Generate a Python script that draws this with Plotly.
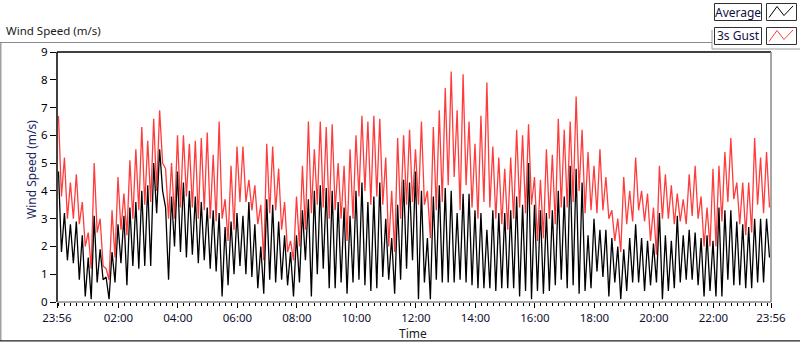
import plotly.graph_objects as go

# ---- data: 12-minute blocks starting 23:56, high / low values ----
gust_hi = [6.7, 5.2, 4.3, 4.6, 3.6, 2.5, 5.0, 3.0, 1.2, 3.3,
           4.5, 3.9, 5.1, 5.5, 6.3, 5.8, 6.6, 6.9, 4.8, 5.0,
           6.0, 6.0, 5.7, 5.8, 5.9, 6.1, 5.3, 6.5, 3.7, 4.9,
           5.6, 5.6, 4.4, 4.2, 3.5, 5.7, 5.6, 4.8, 3.6, 2.2,
           3.8, 4.9, 6.5, 5.5, 6.5, 6.3, 6.4, 5.0, 4.9, 5.5,
           6.0, 6.7, 6.5, 6.7, 6.6, 5.2, 4.0, 5.9, 6.0, 6.2,
           5.5, 6.5, 4.0, 6.3, 6.9, 7.7, 8.3, 6.9, 8.2, 6.5,
           5.7, 6.7, 7.9, 5.6, 5.2, 4.8, 5.2, 6.2, 6.0, 6.4,
           4.5, 4.4, 5.5, 5.3, 6.6, 6.2, 6.5, 7.4, 6.2, 5.4,
           4.9, 5.5, 4.5, 3.3, 3.0, 4.5, 4.0, 5.2, 4.0, 3.9,
           3.4, 4.9, 4.6, 4.2, 3.9, 3.7, 4.6, 4.9, 3.8, 3.4,
           4.8, 4.9, 5.4, 5.9, 4.3, 4.3, 4.3, 5.9, 5.2, 5.4]
gust_lo = [3.8, 3.0, 3.0, 2.8, 2.0, 1.2, 2.5, 1.3, 0.8, 1.6,
           2.6, 2.4, 3.0, 3.3, 3.5, 3.6, 4.0, 5.0, 3.0, 3.0,
           3.4, 3.8, 3.4, 3.0, 3.3, 3.0, 2.9, 3.0, 2.2, 2.6,
           3.6, 3.6, 3.3, 2.8, 1.5, 3.2, 3.3, 2.6, 1.8, 1.5,
           2.0, 2.6, 3.2, 3.5, 3.4, 3.0, 3.3, 3.0, 2.2, 3.0,
           3.8, 4.0, 3.5, 3.8, 3.5, 2.0, 1.8, 3.0, 3.5, 3.6,
           3.5, 3.5, 2.3, 3.3, 3.6, 4.2, 4.5, 3.3, 4.2, 3.4,
           3.0, 3.6, 3.4, 3.0, 2.8, 2.6, 3.0, 3.4, 3.2, 3.5,
           2.2, 2.3, 3.0, 2.8, 3.4, 3.4, 3.6, 4.0, 3.2, 3.3,
           3.2, 3.3, 3.0, 2.2, 1.8, 2.8, 2.9, 3.3, 2.9, 2.2,
           1.7, 3.0, 3.0, 2.8, 2.9, 2.8, 3.1, 3.0, 2.0, 2.0,
           2.0, 2.9, 3.6, 3.7, 2.8, 2.4, 2.5, 3.5, 3.2, 3.4]
avg_hi = [4.7, 3.2, 2.8, 2.9, 2.4, 1.6, 3.1, 1.9, 0.9, 1.8,
          2.8, 3.1, 3.4, 3.6, 4.0, 4.2, 5.0, 5.5, 3.4, 3.8,
          4.7, 4.3, 4.0, 3.8, 3.6, 3.4, 3.3, 3.2, 2.7, 2.9,
          3.2, 3.1, 3.6, 2.8, 2.0, 3.7, 3.5, 2.9, 2.4, 1.8,
          2.4, 3.3, 3.7, 4.0, 4.2, 4.1, 4.0, 3.6, 3.4, 3.1,
          4.0, 4.3, 3.6, 3.8, 4.3, 3.0, 2.3, 3.5, 4.4, 4.3,
          4.7, 4.0, 2.3, 3.8, 4.2, 4.1, 4.0, 3.2, 3.9, 3.9,
          3.3, 3.2, 2.6, 3.3, 3.2, 3.2, 3.3, 3.8, 3.5, 5.0,
          3.5, 3.3, 3.2, 3.3, 4.0, 3.8, 4.9, 4.8, 4.3, 2.4,
          3.0, 2.6, 2.6, 2.3, 2.0, 1.9, 2.3, 2.8, 2.3, 2.2,
          2.1, 3.2, 2.4, 2.2, 3.1, 2.4, 2.6, 2.5, 2.3, 2.4,
          2.2, 3.4, 3.3, 3.3, 2.9, 2.8, 2.7, 3.0, 3.0, 3.0]
avg_lo = [1.8, 1.5, 1.4, 0.8, 0.2, 0.1, 0.7, 0.8, 0.1, 0.7,
          1.4, 0.6, 1.3, 1.2, 1.3, 1.3, 3.2, 4.0, 0.8, 2.0,
          1.8, 1.6, 1.7, 1.4, 1.5, 1.2, 1.1, 0.2, 0.6, 1.0,
          1.3, 1.0, 0.9, 0.5, 0.3, 0.8, 0.7, 0.8, 0.6, 0.2,
          0.7, 1.5, 0.2, 1.0, 1.2, 0.5, 0.5, 0.7, 0.3, 0.7,
          0.8, 0.6, 0.4, 0.5, 0.9, 0.8, 0.3, 0.8, 1.2, 1.5,
          0.1, 0.7, 0.1, 0.8, 0.7, 0.7, 0.7, 0.8, 0.7, 0.6,
          0.5, 0.5, 0.5, 0.4, 0.5, 0.5, 0.5, 0.2, 0.4, 0.1,
          0.4, 0.3, 0.4, 0.6, 0.8, 0.5, 0.6, 0.3, 0.4, 0.5,
          1.1, 0.9, 0.2, 0.7, 0.1, 0.4, 0.7, 0.7, 0.4, 0.6,
          0.7, 0.1, 0.4, 0.5, 0.7, 0.8, 0.8, 0.6, 0.2, 0.4,
          0.2, 0.2, 0.8, 0.6, 0.6, 0.5, 0.5, 0.7, 0.7, 1.6]

tick_text = ["23:56", "02:00", "04:00", "06:00", "08:00", "10:00", "12:00",
             "14:00", "16:00", "18:00", "20:00", "22:00", "23:56"]
tick_minutes = [0, 124, 244, 364, 484, 604, 724, 844, 964, 1084, 1204, 1324, 1440]
block_minutes = 12


def build(hi, lo):
    t, v = [], []
    for i, (h, l) in enumerate(zip(hi, lo)):
        t += [block_minutes * i + 3, block_minutes * i + 9]
        v += [h, l]
    return t, v


tg, vg = build(gust_hi, gust_lo)
ta, va = build(avg_hi, avg_lo)

W, H = 800, 342
L, R, T, B = 57, 771, 52, 302
PW, PH = R - L, B - T


def px(x):
    return (x - L) / PW


def py(y):
    return (B - y) / PH


FONT = "Noto Sans, Open Sans, sans-serif"
RED = "#ff3c3c"

fig = go.Figure()
fig.add_trace(go.Scatter(x=tg, y=vg, mode="lines", line=dict(color=RED, width=1.3),
                         name="3s Gust", showlegend=False, hoverinfo="skip"))
fig.add_trace(go.Scatter(x=ta, y=va, mode="lines", line=dict(color="#000000", width=1.3),
                         name="Average", showlegend=False, hoverinfo="skip"))

fig.update_layout(
    width=W, height=H,
    margin=dict(l=L, r=W - R, t=T, b=H - B, pad=0, autoexpand=False),
    paper_bgcolor="white", plot_bgcolor="white",
    font=dict(family=FONT, size=12, color="black"),
    xaxis=dict(range=[0, 1440], tickvals=tick_minutes, ticktext=tick_text,
               ticks="outside", ticklen=5, tickcolor="black", tickwidth=1,
               showgrid=False, zeroline=False, showline=False, automargin=False,
               tickfont=dict(size=11.5, color="#101030"),
               minor=dict(tick0=4, dtick=12, ticks="outside", ticklen=3,
                          tickcolor="black", showgrid=False)),
    yaxis=dict(range=[0, 9], dtick=1, ticks="outside", ticklen=6, tickcolor="black",
               showgrid=False, zeroline=False, showline=False, automargin=False,
               tickfont=dict(size=11.5, color="black")),
)

shapes = []
# plot frame
shapes.append(dict(type="line", xref="paper", yref="paper", x0=0, x1=1, y0=1, y1=1,
                   line=dict(color="black", width=1.5)))
shapes.append(dict(type="line", xref="paper", yref="paper", x0=0, x1=0, y0=0, y1=1,
                   line=dict(color="black", width=1.5)))
shapes.append(dict(type="line", xref="paper", yref="paper", x0=1, x1=1, y0=0, y1=1,
                   line=dict(color="#8a8a8a", width=1.5)))
shapes.append(dict(type="line", xref="paper", yref="paper", x0=0, x1=1, y0=0, y1=0,
                   line=dict(color="#8a8a8a", width=1.5)))
# outer frame
shapes.append(dict(type="line", xref="paper", yref="paper", x0=px(0), x1=px(712),
                   y0=py(42.5), y1=py(42.5), line=dict(color="#8a8a8a", width=1.2)))
shapes.append(dict(type="line", xref="paper", yref="paper", x0=px(0.8), x1=px(0.8),
                   y0=py(42.5), y1=py(341), line=dict(color="#8a8a8a", width=1.2)))
shapes.append(dict(type="line", xref="paper", yref="paper", x0=px(0), x1=px(800),
                   y0=py(340.8), y1=py(340.8), line=dict(color="#202020", width=1.2)))
shapes.append(dict(type="line", xref="paper", yref="paper", x0=px(712), x1=px(712),
                   y0=py(30), y1=py(49), line=dict(color="#9a9a9a", width=1)))
shapes.append(dict(type="line", xref="paper", yref="paper", x0=px(712), x1=px(800),
                   y0=py(49), y1=py(49), line=dict(color="#9a9a9a", width=1)))
# legend boxes
for (y0, y1, col) in [(3.5, 20.5, "black"), (27.5, 44.5, RED)]:
    shapes.append(dict(type="rect", xref="paper", yref="paper", x0=px(714.5), x1=px(761.5),
                       y0=py(y1), y1=py(y0), line=dict(color="#303030", width=1),
                       fillcolor="white"))
    shapes.append(dict(type="rect", xref="paper", yref="paper", x0=px(766.5), x1=px(796.5),
                       y0=py(y1), y1=py(y0), line=dict(color="#303030", width=1),
                       fillcolor="white"))
    xs = [769, 777, 784, 793]
    ys = [y1 - 3, y0 + 3, y1 - 5, y0 + 2.5]
    path = "M {} {} ".format(px(xs[0]), py(ys[0])) + " ".join(
        "L {} {}".format(px(a), py(b)) for a, b in zip(xs[1:], ys[1:]))
    shapes.append(dict(type="path", xref="paper", yref="paper", path=path,
                       line=dict(color=col, width=1)))
fig.update_layout(shapes=shapes)

ann = [
    dict(text="Wind Speed (m/s)", x=px(4), y=py(31), xanchor="left", yanchor="middle",
         font=dict(size=11.5, color="#1a1a1a")),
    dict(text="Wind Speed (m/s)", x=px(31), y=py(170), xanchor="center", yanchor="middle",
         textangle=-90, font=dict(size=12, color="#1c2660")),
    dict(text="Time", x=px(413), y=py(333), xanchor="center", yanchor="middle",
         font=dict(size=12, color="#1a1a1a")),
    dict(text="Average", x=px(738), y=py(12), xanchor="center", yanchor="middle",
         font=dict(size=12, color="#101040")),
    dict(text="3s Gust", x=px(738), y=py(36), xanchor="center", yanchor="middle",
         font=dict(size=12, color="#101040")),
]
for a in ann:
    a.update(xref="paper", yref="paper", showarrow=False)
fig.update_layout(annotations=ann)

fig.write_html("out.html", config={"displayModeBar": False},
               post_script="document.body.style.margin='0';document.body.style.overflow='hidden';")
